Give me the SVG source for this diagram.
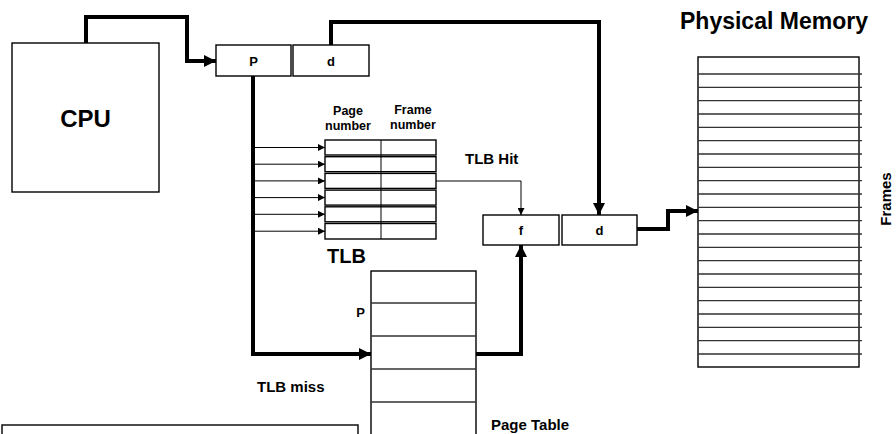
<svg xmlns="http://www.w3.org/2000/svg" width="896" height="434" viewBox="0 0 896 434">
<defs>
<style>
text{font-family:"Liberation Sans",Arial,sans-serif;font-weight:bold;fill:#000}
.box{fill:#fff;stroke:#000;stroke-width:1.4}
.row{stroke:#333;stroke-width:1.3}
.thick{fill:none;stroke:#000;stroke-width:4}
.thin{fill:none;stroke:#000;stroke-width:1}
.mid{text-anchor:middle}
</style>
<marker id="ah" viewBox="0 0 12 12" refX="12" refY="6" markerWidth="12" markerHeight="12" markerUnits="userSpaceOnUse" orient="auto"><path d="M0,0L12,6L0,12z" fill="#000"/></marker>
<marker id="as" viewBox="0 0 8 8" refX="8" refY="4" markerWidth="8" markerHeight="7" markerUnits="userSpaceOnUse" orient="auto"><path d="M0,0L8,4L0,8z" fill="#000"/></marker>
</defs>
<rect width="896" height="434" fill="#fff"/>

<g id="cpu">
<rect class="box" x="12" y="43" width="147" height="149"/>
<text class="mid" x="85.5" y="127" font-size="24">CPU</text>
</g>

<g id="logical-address">
<rect class="box" x="216" y="45" width="75" height="31"/>
<text class="mid" x="253.5" y="66" font-size="13">P</text>
<rect class="box" x="293" y="45" width="76" height="31"/>
<text class="mid" x="331" y="66" font-size="13">d</text>
</g>

<g id="tlb">
<text class="mid" x="348" y="115" font-size="12.5">Page</text>
<text class="mid" x="348" y="130" font-size="12.5">number</text>
<text class="mid" x="413" y="114" font-size="12.5">Frame</text>
<text class="mid" x="413" y="129" font-size="12.5">number</text>
<g>
<rect class="box" x="325" y="140" width="111" height="15"/>
<rect class="box" x="325" y="156.7" width="111" height="15"/>
<rect class="box" x="325" y="173.4" width="111" height="15"/>
<rect class="box" x="325" y="190.1" width="111" height="15"/>
<rect class="box" x="325" y="206.8" width="111" height="15"/>
<rect class="box" x="325" y="223.5" width="111" height="15.5"/>
<path class="thin" d="M381,140V239" stroke-width="1.3"/>
</g>
<text x="327" y="263" font-size="20">TLB</text>
</g>

<g id="physical-address">
<rect class="box" x="483" y="215" width="76" height="30"/>
<text class="mid" x="521" y="235" font-size="13">f</text>
<rect class="box" x="562" y="215" width="75" height="30"/>
<text class="mid" x="599.5" y="235" font-size="13">d</text>
</g>

<g id="page-table">
<rect class="box" x="371" y="271" width="105" height="180"/>
<path class="row" d="M371,303H476M371,336H476M371,369H476M371,402H476"/>
<text class="mid" x="360.5" y="317" font-size="13">P</text>
<text x="491" y="430" font-size="15">Page Table</text>
</g>

<g id="physical-memory">
<text x="680" y="29" font-size="23">Physical Memory</text>
<rect class="box" x="698" y="57" width="161" height="310"/>
<path class="row" d="M698,74H862M698,87.3H862M698,100.7H862M698,114H862M698,127.3H862M698,140.7H862M698,154H862M698,167.3H862M698,180.7H862M698,194H862M698,207.3H862M698,220.7H862M698,234H862M698,247.3H862M698,260.7H862M698,274H862M698,287.3H862M698,300.7H862M698,314H862M698,327.3H862M698,340.7H862M698,354H862"/>
<text class="mid" transform="translate(891,199) rotate(-90)" font-size="15">Frames</text>
</g>

<g id="labels">
<text x="465" y="164" font-size="15">TLB Hit</text>
<text x="257" y="392" font-size="15">TLB miss</text>
</g>

<g id="legend-box">
<rect class="box" x="2" y="425" width="356" height="30"/>
</g>

<g id="connectors">
<path class="thick" d="M86,43V17H187V61H216" marker-end="url(#ah)"/>
<path class="thick" d="M331,45V22H599V215" marker-end="url(#ah)"/>
<path class="thick" d="M253,76V354H371" marker-end="url(#ah)"/>
<path class="thick" d="M476,354H521V245" marker-end="url(#ah)"/>
<path class="thick" d="M637,229H668V211H698" marker-end="url(#ah)"/>
<path class="thin" d="M436,181H521V215" marker-end="url(#as)"/>
<path class="thin" d="M253,147.5H325" marker-end="url(#as)"/>
<path class="thin" d="M253,164.2H325" marker-end="url(#as)"/>
<path class="thin" d="M253,180.9H325" marker-end="url(#as)"/>
<path class="thin" d="M253,197.6H325" marker-end="url(#as)"/>
<path class="thin" d="M253,214.3H325" marker-end="url(#as)"/>
<path class="thin" d="M253,231.2H325" marker-end="url(#as)"/>
</g>
</svg>
